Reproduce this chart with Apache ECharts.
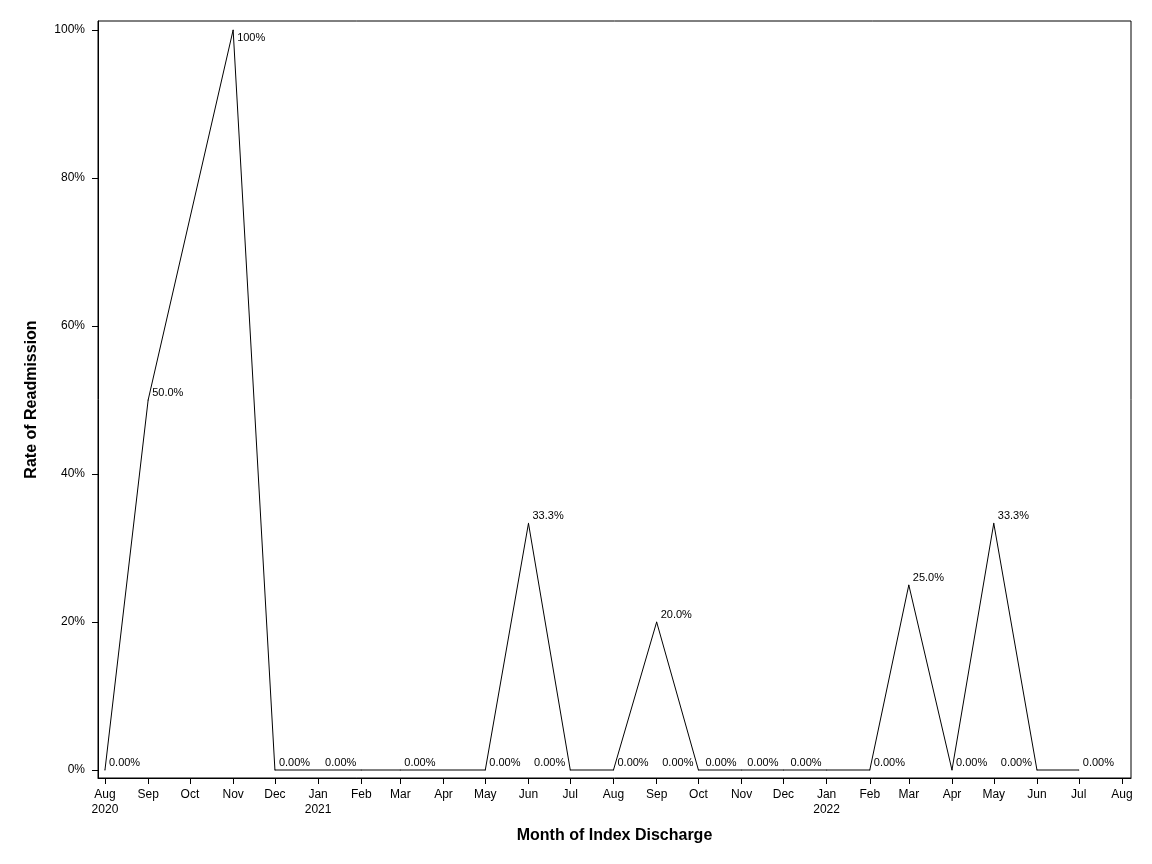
<!DOCTYPE html>
<html>
<head>
<meta charset="utf-8">
<script src="https://cdn.jsdelivr.net/npm/echarts@6/dist/echarts.min.js"></script>
<style>
html,body{margin:0;padding:0;background:#fff;}
#chart{width:1152px;height:864px;}
</style>
</head>
<body>
<div id="chart"></div>
<script>
// ---- data ----
const months = ['2020-08','2020-09','2020-11','2020-12','2021-02','2021-03','2021-05','2021-06','2021-07','2021-08','2021-09','2021-10','2021-11','2021-12','2022-01','2022-02','2022-03','2022-04','2022-05','2022-06','2022-07'];
const rates = [0,50,100,0,0,0,0,33.333,0,0,20,0,0,0,0,0,25,0,33.333,0,0];
const tickMonths = ['2020-08','2020-09','2020-10','2020-11','2020-12','2021-01','2021-02','2021-03','2021-04','2021-05','2021-06','2021-07','2021-08','2021-09','2021-10','2021-11','2021-12','2022-01','2022-02','2022-03','2022-04','2022-05','2022-06','2022-07','2022-08'];
const yTicks = [0,20,40,60,80,100];
const monthNames = ['Jan','Feb','Mar','Apr','May','Jun','Jul','Aug','Sep','Oct','Nov','Dec'];

// ---- style: label side per point ----
const labelSides = ['r','r','r','r','l','r','r','r','l','r','r','l','l','l','l','r','r','r','r','l','r'];

function toTs(s){ const [y,m] = s.split('-').map(Number); return Date.UTC(y, m-1, 1); }
const tickTs = tickMonths.map(toTs);
const firstTick = tickTs[0];

const seriesData = months.map((m,i) => {
  const v = rates[i];
  const side = labelSides[i];
  const dy = v >= 99 ? 8.5 : -6.5;
  return {
    value: [toTs(m), v],
    label: side === 'l'
      ? { position: [-4.5, dy], align: 'right', verticalAlign: 'middle' }
      : { position: [4.5, dy], align: 'left', verticalAlign: 'middle' }
  };
});

const chart = echarts.init(document.getElementById('chart'));
const font = 'Liberation Sans, Arial, sans-serif';
chart.setOption({
  animation: false,
  backgroundColor: '#fff',
  grid: { left: 98, right: 21, top: 21, bottom: 86, show: true, borderColor: '#000', borderWidth: 1, containLabel: false },
  xAxis: {
    type: 'value',
    min: Date.UTC(2020,6,27),
    max: Date.UTC(2022,7,7,12),
    scale: true,
    name: 'Month of Index Discharge',
    nameLocation: 'middle',
    nameGap: 50,
    nameTextStyle: { fontFamily: font, fontSize: 16, fontWeight: 'bold', color: '#000' },
    axisLine: { show: true, onZero: false, lineStyle: { color: '#000', width: 1 } },
    axisTick: { show: true, inside: false, length: 6, lineStyle: { color: '#000' }, customValues: tickTs },
    splitLine: { show: false },
    axisLabel: {
      customValues: tickTs,
      fontFamily: font, fontSize: 12, color: '#000', margin: 9, lineHeight: 15,
      hideOverlap: false,
      formatter: function(v){
        const d = new Date(v);
        const mo = d.getUTCMonth();
        let s = monthNames[mo];
        if (mo === 0 || Math.abs(v - firstTick) < 86400000) s += '\n' + d.getUTCFullYear();
        return s;
      }
    }
  },
  yAxis: {
    type: 'value',
    min: -1.081,
    max: 101.22,
    name: 'Rate of Readmission',
    nameLocation: 'middle',
    nameGap: 58,
    nameRotate: 90,
    nameTextStyle: { fontFamily: font, fontSize: 16, fontWeight: 'bold', color: '#000' },
    axisLine: { show: true, onZero: false, lineStyle: { color: '#000', width: 1 } },
    axisTick: { show: true, inside: false, length: 6, lineStyle: { color: '#000' }, customValues: yTicks },
    splitLine: { show: false },
    axisLabel: {
      customValues: yTicks,
      fontFamily: font, fontSize: 12, color: '#000', margin: 13,
      formatter: v => v + '%'
    }
  },
  series: [{
    type: 'line',
    data: seriesData,
    symbol: 'circle',
    symbolSize: 1,
    itemStyle: { color: '#000' },
    lineStyle: { color: '#000', width: 1 },
    label: {
      show: true,
      fontFamily: font, fontSize: 11, color: '#000',
      formatter: p => p.value[1].toPrecision(3) + '%'
    },
    labelLayout: { hideOverlap: false }
  }]
});
</script>
</body>
</html>
